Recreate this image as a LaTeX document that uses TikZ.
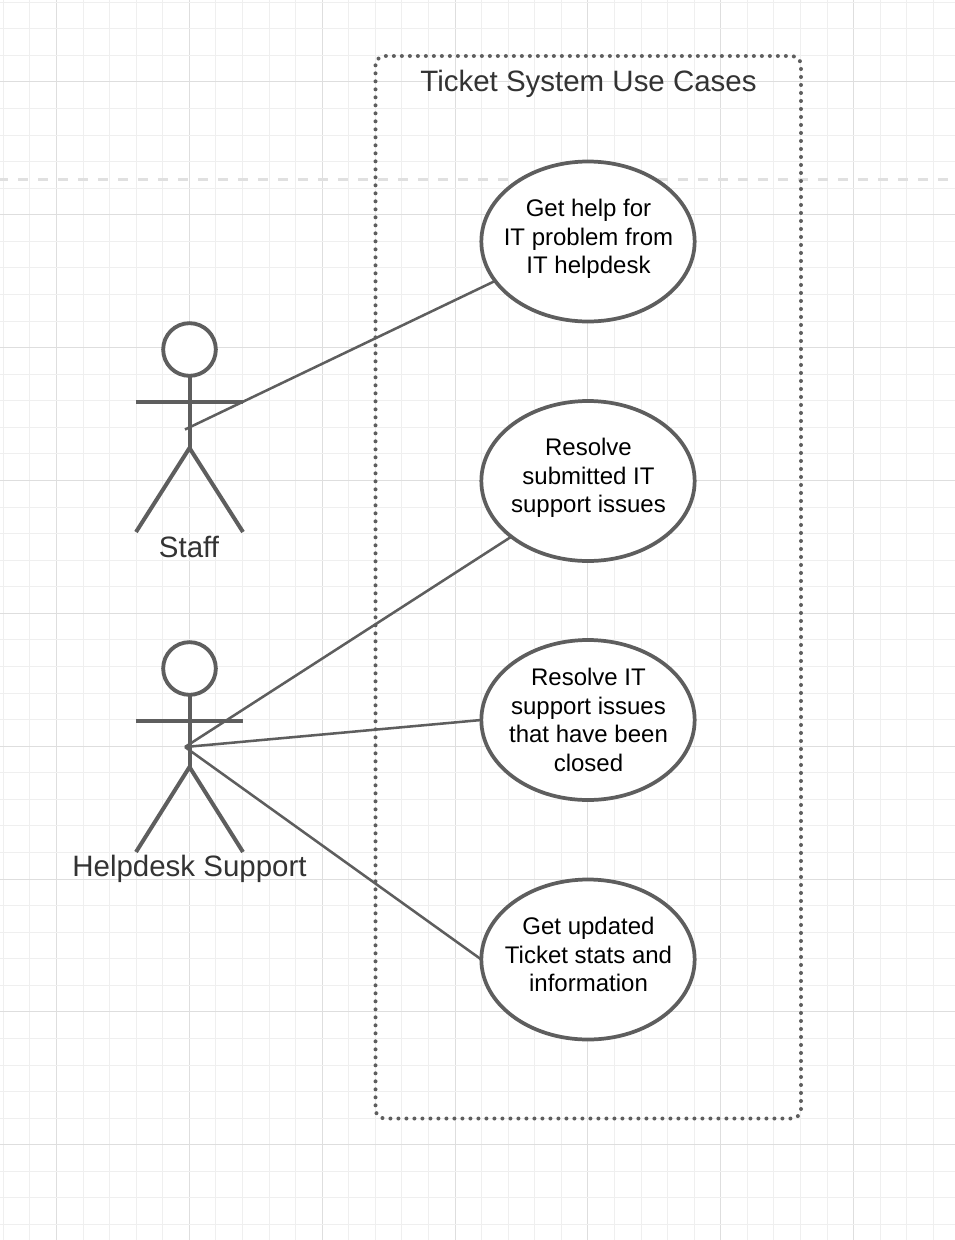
\documentclass[tikz,border=0pt]{standalone}
\usepackage{fontspec}
\setmainfont{Liberation Sans}
\usetikzlibrary{shapes.geometric}
\definecolor{ink}{HTML}{5E5E5E}
\definecolor{txt}{HTML}{333333}
\definecolor{gridminor}{HTML}{EFEFEF}
\definecolor{gridmajor}{HTML}{DEDEDE}
\definecolor{guide}{HTML}{E0E0E0}
\tikzset{
  usecase/.style={draw=ink,line width=2.8pt,fill=white,ellipse,minimum width=160pt,minimum height=120pt,inner sep=0pt,outer sep=0pt},
  casetext/.style={align=center,text=black,inner sep=0pt,font=\fontsize{18}{21.4}\selectfont},
  boundary/.style={draw=ink,line width=3pt,line cap=round,dash pattern=on 0pt off 6pt,rounded corners=7pt},
  limb/.style={draw=ink,line width=3pt},
  headshape/.style={draw=ink,line width=2.9pt,fill=white,circle,minimum size=39.5pt,inner sep=0pt,outer sep=0pt},
  assoc/.style={draw=ink,line width=1.9pt},
  biglabel/.style={text=txt,inner sep=0pt,font=\fontsize{22.1}{26}\selectfont},
}
\begin{document}
\begin{tikzpicture}[x=0.75pt,y=-0.75pt]
\useasboundingbox (0,0) rectangle (955,1240);
\fill[white] (0,0) rectangle (955,1240);
% grid
\foreach \k in {0,...,35}{
  \pgfmathsetmacro{\p}{floor(3.4+26.57*\k)+0.5}
  \pgfmathtruncatemacro{\m}{mod(\k,5)}
  \ifnum\m=2 \draw[gridmajor,line width=0.75pt] (\p,0) -- (\p,1240);
  \else \draw[gridminor,line width=0.75pt] (\p,0) -- (\p,1240); \fi
}
\foreach \k in {0,...,46}{
  \pgfmathsetmacro{\p}{floor(2.2+26.57*\k)+0.5}
  \pgfmathtruncatemacro{\m}{mod(\k,5)}
  \ifnum\m=3 \draw[gridmajor,line width=0.75pt] (0,\p) -- (955,\p);
  \else \draw[gridminor,line width=0.75pt] (0,\p) -- (955,\p); \fi
}
\draw[guide,line width=2.2pt,dash pattern=on 7.5pt off 7.5pt,dash phase=1.5pt] (0,179.5) -- (955,179.5);
% system boundary
\draw[boundary] (375.5,56) rectangle (801,1118.5);
\node[biglabel] (title) at (588.5,84) {Ticket System Use Cases};
% use cases
\node[usecase] (uc1) at (588,241.5) {};
\node[usecase] (uc2) at (588,481) {};
\node[usecase] (uc3) at (588,720) {};
\node[usecase] (uc4) at (588,959.5) {};
\node[casetext] (uc1text) at (588.5,239) {Get help for\\IT problem from\\IT helpdesk};
\node[casetext] (uc2text) at (588.5,478) {Resolve\\submitted IT\\support issues};
\node[casetext] (uc3text) at (588.5,720) {Resolve IT\\support issues\\that have been\\closed};
\node[casetext] (uc4text) at (588.5,954.5) {Get updated\\Ticket stats and\\information};
% Staff actor
\node[headshape] (staffhead) at (189.5,349.5) {};
\coordinate (staffhip) at (189.5,448);
\coordinate (staffarml) at (136,401.5);
\coordinate (staffarmr) at (243,401.5);
\coordinate (stafffootl) at (136,532);
\coordinate (stafffootr) at (243,532);
\coordinate (staffport) at (185,429.5);
\draw[limb] (staffhead.south) -- (staffhip);
\draw[limb] (staffarml) -- (staffarmr);
\draw[limb] (stafffootl) -- (staffhip) -- (stafffootr);
\node[biglabel] (stafflabel) at (189,547) {Staff};
% Helpdesk actor
\node[headshape] (helphead) at (189.5,668.5) {};
\coordinate (helphip) at (189.5,767);
\coordinate (helparml) at (136,720.5);
\coordinate (helparmr) at (243,720.5);
\coordinate (helpfootl) at (136,852);
\coordinate (helpfootr) at (243,852);
\coordinate (helpport) at (185,747);
\draw[limb] (helphead.south) -- (helphip);
\draw[limb] (helparml) -- (helparmr);
\draw[limb] (helpfootl) -- (helphip) -- (helpfootr);
\node[biglabel] (helplabel) at (189.5,868.5) {Helpdesk Support};
% associations
\draw[assoc] (staffport) -- (uc1.203);
\draw[assoc] (helpport) -- (uc2.216);
\draw[assoc] (helpport) -- (uc3.west);
\draw[assoc] (helpport) -- (uc4.west);
\end{tikzpicture}
\end{document}
